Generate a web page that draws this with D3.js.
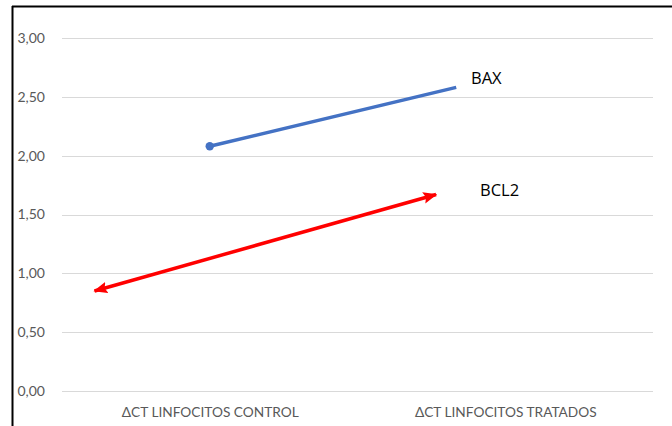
<!DOCTYPE html>
<html>
<head>
<meta charset="utf-8">
<script src="https://cdn.jsdelivr.net/npm/d3@7"></script>
<style>
  body { margin: 0; background: #fff; }
  svg { display: block; font-family: Lato, "Open Sans", sans-serif; }
</style>
</head>
<body>
<div id="chart"></div>
<script>
// category labels along the x axis
const categories = ['ΔCT LINFOCITOS CONTROL', 'ΔCT LINFOCITOS TRATADOS'];
// y tick values
const yTicks = [0, 0.5, 1, 1.5, 2, 2.5, 3];

// BAX line (position along category axis, value)
const baxPos = [0, 0.834];
const baxValues = [2.08, 2.58];

// BCL2 double arrow
const bcl2Pos = [-0.39, 0.766];
const bcl2Values = [0.85, 1.67];

const width = 672, height = 426;
const plot = { left: 62, right: 653, top: 38, bottom: 391 };

const svg = d3.select('#chart')
  .append('svg')
  .attr('width', width)
  .attr('height', height);

// frame lines (left and top)
svg.append('line')
  .attr('x1', 12.5).attr('x2', 12.5).attr('y1', 6).attr('y2', height)
  .attr('stroke', '#000').attr('stroke-width', 2);
svg.append('line')
  .attr('x1', 12).attr('x2', width).attr('y1', 6.5).attr('y2', 6.5)
  .attr('stroke', '#000').attr('stroke-width', 2);

const x = d3.scaleLinear()
  .domain([-0.5, categories.length - 0.5])
  .range([plot.left, plot.right]);

const y = d3.scaleLinear()
  .domain([0, 3])
  .range([plot.bottom, plot.top]);

// gridlines
svg.append('g')
  .selectAll('line')
  .data(yTicks)
  .enter()
  .append('line')
  .attr('x1', plot.left)
  .attr('x2', plot.right)
  .attr('y1', d => Math.round(y(d)) + 0.5)
  .attr('y2', d => Math.round(y(d)) + 0.5)
  .attr('stroke', '#d9d9d9')
  .attr('stroke-width', 1);

// y axis labels
const fmt = d => d.toFixed(2).replace('.', ',');
const yAxis = svg.append('g')
  .attr('transform', 'translate(' + 47 + ',0)')
  .call(d3.axisLeft(y).tickValues(yTicks).tickFormat(fmt).tickSize(0).tickPadding(2));
yAxis.select('.domain').remove();
yAxis.selectAll('text')
  .attr('fill', '#595959')
  .style('font-size', '14px')
  .style('font-family', 'Lato, sans-serif');

// x axis labels
const xAxis = svg.append('g')
  .attr('transform', 'translate(0,' + 407 + ')')
  .call(d3.axisBottom(x).tickValues(categories.map((c, i) => i))
    .tickFormat(i => categories[i]).tickSize(0).tickPadding(0));
xAxis.select('.domain').remove();
xAxis.selectAll('text')
  .attr('fill', '#595959')
  .style('font-size', '13.7px')
  .style('font-family', 'Lato, sans-serif');

// arrow markers
const defs = svg.append('defs');
['arrow-end', 'arrow-start'].forEach(id => {
  defs.append('marker')
    .attr('id', id)
    .attr('markerUnits', 'userSpaceOnUse')
    .attr('viewBox', '0 0 12 10')
    .attr('refX', 11)
    .attr('refY', 5)
    .attr('markerWidth', 14)
    .attr('markerHeight', 12)
    .attr('orient', id === 'arrow-end' ? 'auto' : 'auto-start-reverse')
    .append('path')
    .attr('d', 'M0,0 L12,5 L0,10 L2,5 Z')
    .attr('fill', '#ff0000');
});

const line = d3.line()
  .x(d => x(d[0]))
  .y(d => y(d[1]));

// BAX
const baxData = baxPos.map((p, i) => [p, baxValues[i]]);
svg.append('path')
  .datum(baxData)
  .attr('d', line)
  .attr('fill', 'none')
  .attr('stroke', '#4472c4')
  .attr('stroke-width', 3.5);
svg.append('circle')
  .attr('cx', x(baxData[0][0]))
  .attr('cy', y(baxData[0][1]))
  .attr('r', 4.2)
  .attr('fill', '#4472c4');

// BCL2
const bcl2Data = bcl2Pos.map((p, i) => [p, bcl2Values[i]]);
svg.append('path')
  .datum(bcl2Data)
  .attr('d', line)
  .attr('fill', 'none')
  .attr('stroke', '#ff0000')
  .attr('stroke-width', 3.5)
  .attr('marker-start', 'url(#arrow-start)')
  .attr('marker-end', 'url(#arrow-end)');

// series labels
svg.append('text')
  .attr('x', 471)
  .attr('y', 84)
  .attr('fill', '#000')
  .style('font-family', '"Open Sans", sans-serif')
  .style('font-size', '16.5px')
  .text('BAX');
svg.append('text')
  .attr('x', 480)
  .attr('y', 196)
  .attr('fill', '#000')
  .style('font-family', '"Open Sans", sans-serif')
  .style('font-size', '16.5px')
  .text('BCL2');
</script>
</body>
</html>
